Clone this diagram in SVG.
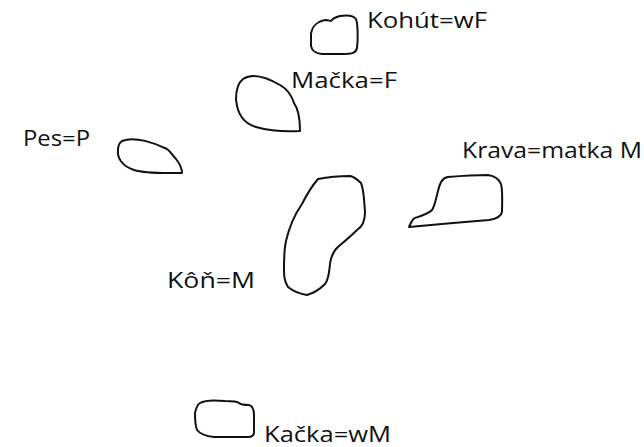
<svg xmlns="http://www.w3.org/2000/svg" width="644" height="447" viewBox="0 0 644 447">
<style>
.blob{fill:none;stroke:#111;stroke-width:2;stroke-linejoin:round;stroke-linecap:round}
.lbl{font-family:"Open Sans","Liberation Sans",sans-serif;font-size:22px;fill:#111}
</style>
<rect width="644" height="447" fill="#fff"/>
<g id="kohut">
<path class="blob" d="M 331,21 C 333,18 336,17 340,16 C 346,15 353,15 356,19 C 358,24 358,40 357,48 C 356,53 352,54 343,54 L 322,54 C 315,53 312,51 311,46 L 311,34 C 312,26 318,21 326,20 C 328,20 330,21 331,21 Z"/>
<text class="lbl" x="367" y="28" textLength="120" lengthAdjust="spacingAndGlyphs">Kohút=wF</text>
</g>
<g id="macka">
<path class="blob" d="M 243,79 C 252,73 266,77 280,85 C 289,90 292,97 294,103 C 299,110 300,122 300,131 C 285,132 267,130 256,127 C 242,123 237,112 236,99 C 236,89 238,83 243,79 Z"/>
<text class="lbl" x="291" y="88" textLength="106" lengthAdjust="spacingAndGlyphs">Mačka=F</text>
</g>
<g id="pes">
<path class="blob" d="M 122,141 C 135,136 155,143 167,149 C 171,152 173,156 176,159 C 180,164 182,169 182,173 C 166,173 146,174 134,170 C 122,166 117,158 118,150 C 118,145 119,143 122,141 Z"/>
<text class="lbl" x="23" y="146" textLength="67" lengthAdjust="spacingAndGlyphs">Pes=P</text>
</g>
<g id="krava">
<path class="blob" d="M 409,227 C 411,223 412,219 415,218 C 421,216 428,214 432,210 C 435,206 436,198 438,191 C 440,183 442,178 448,177 C 460,176 478,175 488,175 C 495,176 499,179 501,184 C 503,192 502,205 502,212 C 501,217 496,219 489,220 C 465,222 430,225 409,227 Z"/>
<text class="lbl" x="462" y="158" textLength="180" lengthAdjust="spacingAndGlyphs">Krava=matka M</text>
</g>
<g id="kon">
<path class="blob" d="M 318,179 C 328,177 340,176 350,176 C 355,177 358,180 361,183 C 364,190 364,200 365,212 C 365,222 362,227 357,230 C 351,236 345,241 339,246 C 333,251 331,256 330,264 C 329,272 329,279 325,284 C 320,289 314,293 307,295 C 300,294 293,291 288,287 C 284,281 284,275 284,268 C 284,258 284,250 286,241 C 289,228 295,214 302,204 C 307,194 312,186 318,179 Z"/>
<text class="lbl" x="167" y="288" textLength="88" lengthAdjust="spacingAndGlyphs">Kôň=M</text>
</g>
<g id="kacka">
<path class="blob" d="M 200,403 C 205,400 215,400 225,401 C 232,401 237,401 239,403 C 241,405 244,405 249,405 C 253,406 254,410 254,415 L 254,432 C 254,435 252,437 248,437 L 214,437 C 205,436 200,434 197,430 C 195,425 195,418 195,413 C 196,408 197,405 200,403 Z"/>
<text class="lbl" x="264" y="442" textLength="127" lengthAdjust="spacingAndGlyphs">Kačka=wM</text>
</g>
<g id="connectors"></g>
</svg>
